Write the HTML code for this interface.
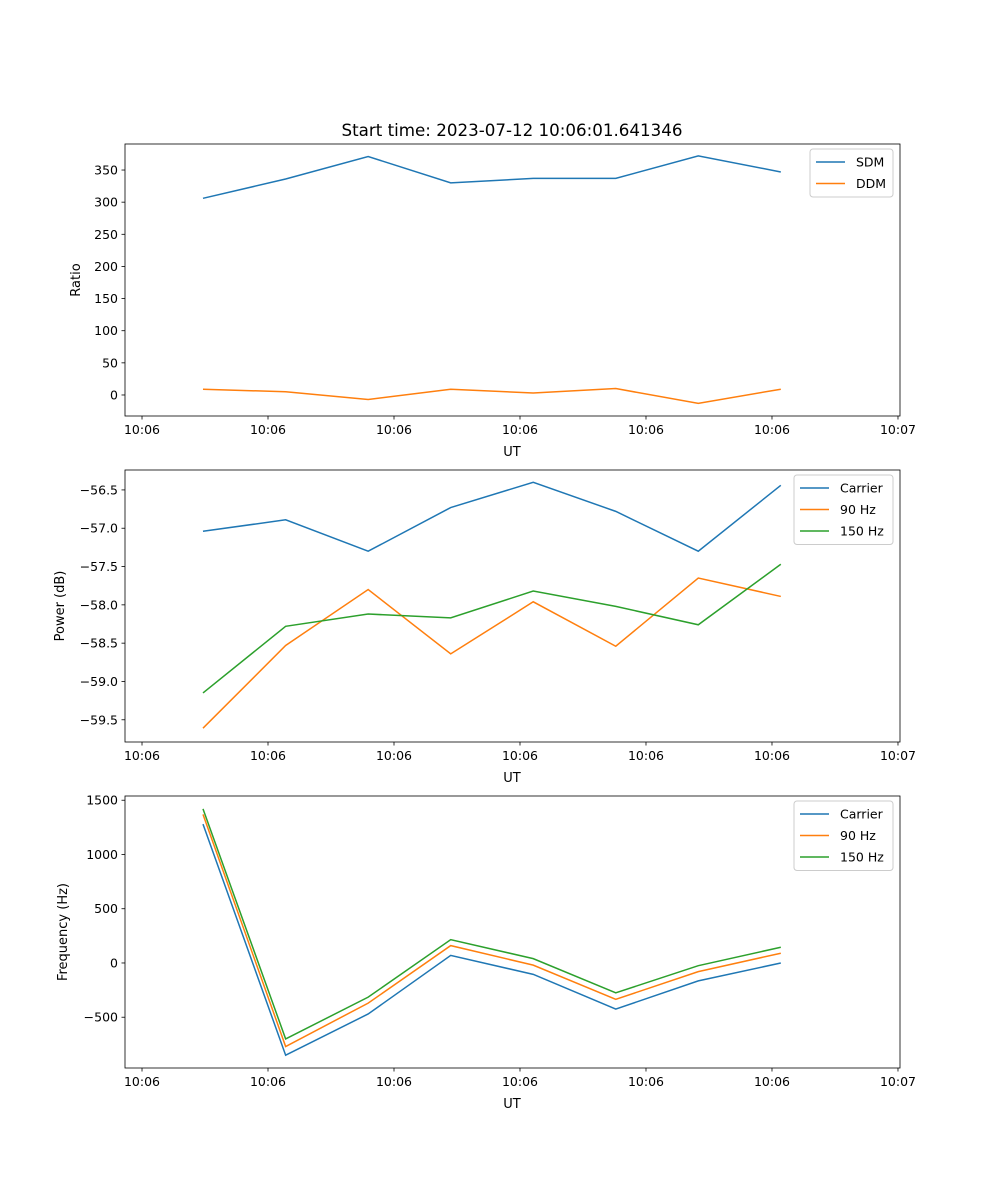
<!DOCTYPE html>
<html><head><meta charset="utf-8"><style>
body{margin:0;background:#fff;}
svg{display:block;font-family:"DejaVu Sans","Liberation Sans",sans-serif;}
</style></head><body>
<svg id="fig" width="1000" height="1200" xmlns="http://www.w3.org/2000/svg">
<rect width="1000" height="1200" fill="#fff"/>
<text x="512" y="136" font-size="16.7" text-anchor="middle">Start time: 2023-07-12 10:06:01.641346</text>
</svg>
<script>
const times=[4.84,11.4,17.95,24.5,31.05,37.6,44.15,50.7];
const xTicks=[0,10,20,30,40,50,60];
const xTickLabels=["10:06","10:06","10:06","10:06","10:06","10:06","10:07"];
const sdm=[306,336,371,330,337,337,372,347];
const ddm=[9,5,-7,9,3,10,-13,9];
const pCarrier=[-57.04,-56.89,-57.30,-56.73,-56.40,-56.78,-57.30,-56.44];
const p90=[-59.61,-58.53,-57.80,-58.64,-57.96,-58.54,-57.65,-57.89];
const p150=[-59.15,-58.28,-58.12,-58.17,-57.82,-58.02,-58.26,-57.47];
const fCarrier=[1280,-850,-470,70,-105,-425,-165,0];
const f90=[1370,-770,-370,160,-20,-335,-80,90];
const f150=[1420,-700,-315,215,40,-275,-25,145];
const ticks1=[0,50,100,150,200,250,300,350];
const ticks2=[-59.5,-59.0,-58.5,-58.0,-57.5,-57.0,-56.5];
const ticks3=[-500,0,500,1000,1500];

const NS="http://www.w3.org/2000/svg";
const svg=document.getElementById('fig');
function mk(t,a,p){const e=document.createElementNS(NS,t);for(const k in a)e.setAttribute(k,a[k]);(p||svg).appendChild(e);return e;}
const L=125,R=900,x0=-1.35,x1=60.16;
const xs=v=>L+(v-x0)/(x1-x0)*(R-L);
const C={b:'#1f77b4',o:'#ff7f0e',g:'#2ca02c'};
function panel(id,top,ymin,ymax,ticks,fmt,ylabel,ylx,series,legW){
  const bot=top+272;
  const ys=v=>bot-(v-ymin)/(ymax-ymin)*(bot-top);
  const g=mk('g',{});
  
  
  ticks.forEach(t=>{const y=ys(t);
    const l=mk('line',{x1:L-3.5,x2:L,y1:y,y2:y,stroke:'#000','stroke-width':0.8},g);
    
    const tx=mk('text',{x:L-7,y:y+4.5,'font-size':12.5,'text-anchor':'end'},g);tx.textContent=fmt(t);
    });
  xTicks.forEach((t,i)=>{const x=xs(t);
    const l=mk('line',{x1:x,x2:x,y1:bot,y2:bot+3.5,stroke:'#000','stroke-width':0.8},g);
    
    const tx=mk('text',{x:x,y:bot+18,'font-size':12.5,'text-anchor':'middle'},g);tx.textContent=xTickLabels[i];
    });
  const xl=mk('text',{x:512,y:bot+40,'font-size':13,'text-anchor':'middle'},g);xl.textContent='UT';
  
  const yl=mk('text',{x:ylx,y:(top+bot)/2,'font-size':13,'text-anchor':'middle',transform:`rotate(-90 ${ylx} ${(top+bot)/2})`},g);yl.textContent=ylabel;
  
  series.forEach(s=>{const p=mk('polyline',{points:s.d.map((v,i)=>xs(times[i])+','+ys(v)).join(' '),fill:'none',stroke:s.c,'stroke-width':1.5},g);
    });
  const fr=mk('rect',{x:L,y:top,width:R-L,height:272,fill:'none',stroke:'#000','stroke-width':0.8},g);
  
  const lx=R-7-legW, ly=top+5;
  const lg=mk('g',{},g);
  
  mk('rect',{x:lx,y:ly,width:legW,height:series.length*21.5+5,rx:3,fill:'#fff',stroke:'#ccc','stroke-width':1},lg);
  series.forEach((s,i)=>{const y=ly+13+i*21.5;
    mk('line',{x1:lx+6,x2:lx+35,y1:y,y2:y,stroke:s.c,'stroke-width':1.5},lg);
    const t=mk('text',{x:lx+46,y:y+4.5,'font-size':12.5},lg);t.textContent=s.n;
    });
}
const m=v=>String(v).replace('-','\u2212');
panel('ratio-panel',144,-32.7,390.5,ticks1,v=>m(v),'Ratio',80,[{n:'SDM',d:sdm,c:C.b},{n:'DDM',d:ddm,c:C.o}],83);
panel('power-panel',470,-59.79,-56.24,ticks2,v=>m(v.toFixed(1)),'Power (dB)',64,[{n:'Carrier',d:pCarrier,c:C.b},{n:'90 Hz',d:p90,c:C.o},{n:'150 Hz',d:p150,c:C.g}],99);
panel('frequency-panel',796,-968,1539,ticks3,v=>m(v),'Frequency (Hz)',67,[{n:'Carrier',d:fCarrier,c:C.b},{n:'90 Hz',d:f90,c:C.o},{n:'150 Hz',d:f150,c:C.g}],99);
</script>
</body></html>
